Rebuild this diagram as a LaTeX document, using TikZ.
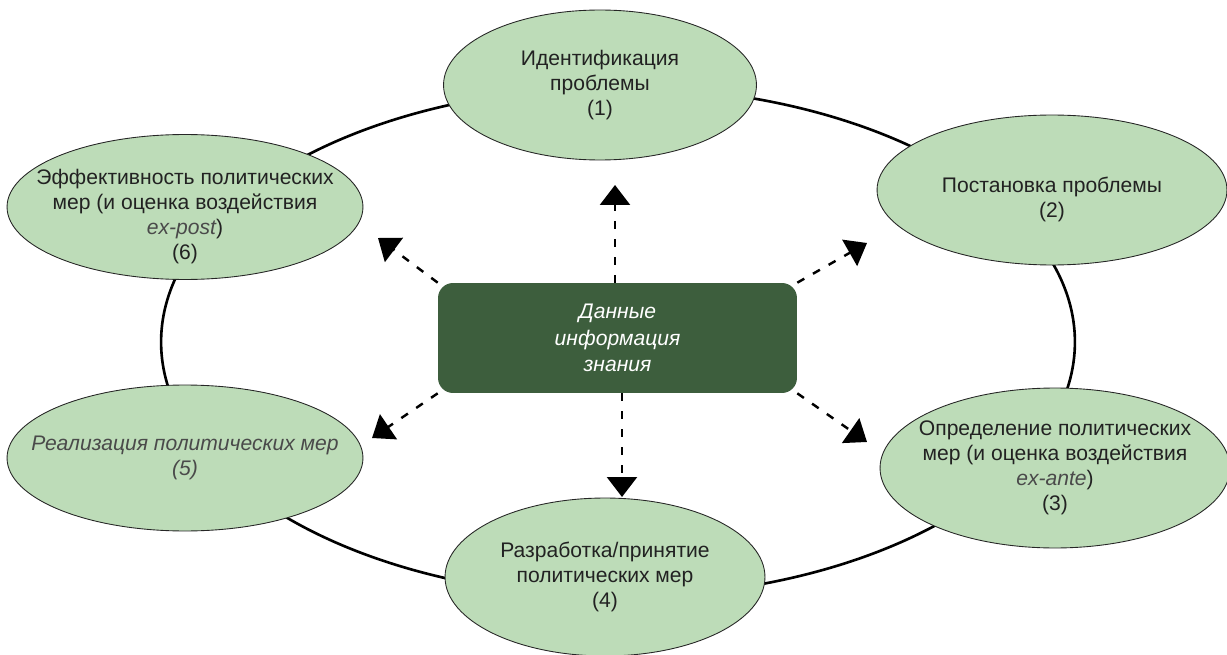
\documentclass[tikz,border=0pt]{standalone}
\usepackage{fontspec}
\setmainfont{Liberation Sans}
\usetikzlibrary{arrows.meta,positioning,shapes.geometric}

\definecolor{stagegreen}{HTML}{BDDCB8}
\definecolor{datagreen}{HTML}{3D5E3D}
\definecolor{inkgray}{HTML}{222222}
\definecolor{softgray}{HTML}{4A4A4A}

% strut on the first line pushes a stage text down a little
\newcommand{\padtop}[1]{\rule{0pt}{#1}}

\tikzset{
  stage/.style={ellipse, draw=black!85, line width=0.5pt, fill=stagegreen,
    align=center, inner xsep=-3cm, inner ysep=-1.2cm, text=inkgray,
    font=\fontsize{12}{14.2}\selectfont},
  databox/.style={rectangle, rounded corners=0.3cm, fill=datagreen, text=white,
    align=center, minimum width=7.18cm, minimum height=2.2cm,
    font=\fontsize{12}{15}\selectfont\itshape},
  flow/.style={line width=1.4pt, dash pattern=on 0.16cm off 0.2cm,
    -{Triangle[length=0.4cm,width=0.6cm]}}
}

\begin{document}
\begin{tikzpicture}[x=0.02cm, y=-0.02cm]
  \useasboundingbox (0,0) rectangle (1227,655);

  % the policy cycle
  \draw[line width=1.5pt] (618,342) ellipse [x radius=9.14cm, y radius=5.1cm];

  \node[stage, minimum width=6.26cm, minimum height=3cm] (ident) at (600,85)
    {Идентификация\\проблемы\\(1)};
  \node[stage, minimum width=7cm, minimum height=3cm] (postan) at (1052,190)
    {\padtop{20pt}Постановка проблемы\\(2)};
  \node[stage, minimum width=7cm, minimum height=3.2cm] (opred) at (1055,468)
    {Определение политических\\мер (и оценка воздействия\\{\color{softgray}\itshape ex-ante})\\(3)};
  \node[stage, minimum width=6.4cm, minimum height=3.16cm] (razrab) at (605,577)
    {Разработка/принятие\\политических мер\\(4)};
  \node[stage, minimum width=7.12cm, minimum height=2.92cm, text=softgray,
        font=\fontsize{12}{14.2}\selectfont\itshape] (realiz) at (185,458)
    {Реализация политических мер\\(5)};
  \node[stage, minimum width=7.12cm, minimum height=2.9cm] (effekt) at (185,207)
    {\padtop{20pt}Эффективность политических\\мер (и оценка воздействия\\{\color{softgray}\itshape ex-post})\\(6)};

  % data feeding every stage
  \node[databox] (data) at (617.5,338) {Данные\\информация\\знания};

  \coordinate (up) at (615,185);
  \coordinate (dn) at (622,497);
  \coordinate (nw) at (378,238);
  \coordinate (ne) at (867,243);
  \coordinate (sw) at (372,438);
  \coordinate (se) at (867,442);

  \draw[flow] (data.north -| up) -- (up);
  \draw[flow] (data.south -| dn) -- (dn);
  \draw[flow] (data.north west) -- (nw);
  \draw[flow] (data.north east) -- (ne);
  \draw[flow] (data.south west) -- (sw);
  \draw[flow] (data.south east) -- (se);
\end{tikzpicture}
\end{document}
